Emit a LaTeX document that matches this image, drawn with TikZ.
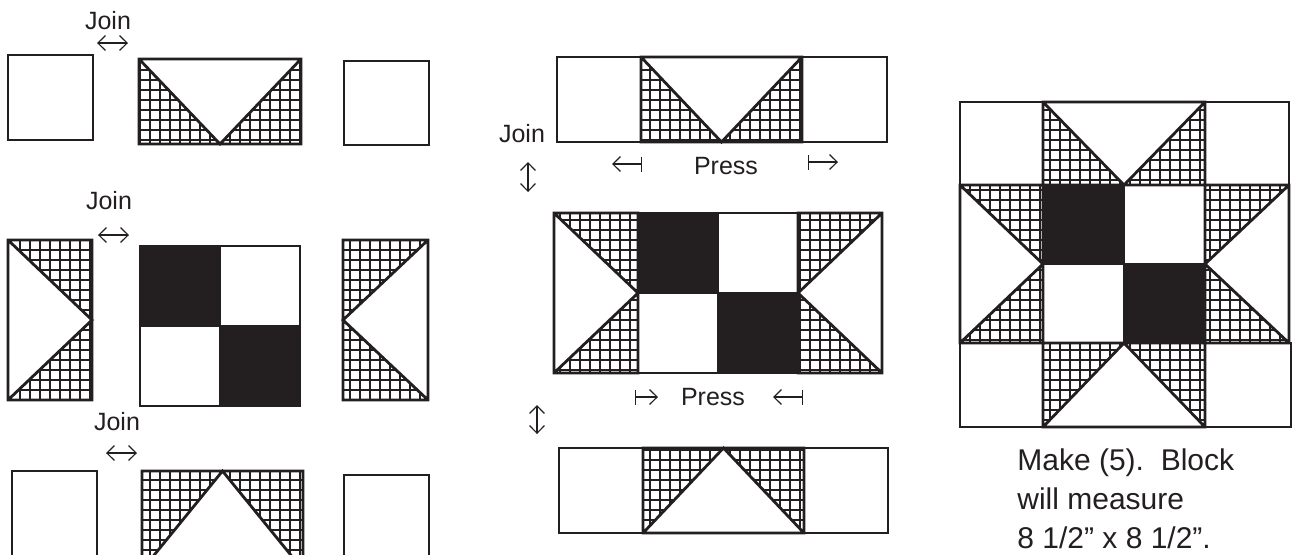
\documentclass[tikz,border=0pt]{standalone}
\usepackage{fontspec}
\setmainfont{Liberation Sans}
\usetikzlibrary{arrows.meta}
\definecolor{ink}{RGB}{35,31,32}
\tikzset{pc/.style={draw=ink,line width=1.4pt},
 hg/.style={draw=ink,line width=.7pt,step=5pt},
 bk/.style={pc,fill=ink},
 lab/.style={text=ink,inner sep=0pt,font=\fontsize{12.5}{15}\selectfont},
 note/.style={lab,align=left,font=\fontsize{15}{19.5}\selectfont},
 dar/.style={draw=ink,line width=.6pt,{Straight Barb[length=3.8pt,width=7.5pt]}-{Straight Barb[length=3.8pt,width=7.5pt]}},
 mto/.style={draw=ink,line width=.6pt,{Bar[width=7.5pt]}-{Straight Barb[length=3.8pt,width=7.5pt]}}}
\newcommand\hatch[1]{\begin{scope}\clip #1;\draw[hg] (0,570) grid (1296,0);\end{scope}}
\newcommand\geeseV[4]{\hatch{(#1,#2)--({(#1+#3)/2},#4)--(#1,#4)--cycle}\hatch{(#3,#2)--({(#1+#3)/2},#4)--(#3,#4)--cycle}
 \draw[pc] (#1,#2) rectangle (#3,#4) (#1,#2)--({(#1+#3)/2},#4)--(#3,#2);}
\newcommand\geeseA[4]{\hatch{(#1,#2)--({(#1+#3)/2},#2)--(#1,#4)--cycle}\hatch{({(#1+#3)/2},#2)--(#3,#2)--(#3,#4)--cycle}
 \draw[pc] (#1,#2) rectangle (#3,#4) (#1,#4)--({(#1+#3)/2},#2)--(#3,#4);}
\newcommand\geeseL[4]{\hatch{(#1,#2)--(#3,#2)--(#3,{(#2+#4)/2})--cycle}\hatch{(#3,{(#2+#4)/2})--(#3,#4)--(#1,#4)--cycle}
 \draw[pc] (#1,#2) rectangle (#3,#4) (#1,#2)--(#3,{(#2+#4)/2})--(#1,#4);}
\newcommand\geeseR[4]{\hatch{(#1,#2)--(#3,#2)--(#1,{(#2+#4)/2})--cycle}\hatch{(#1,{(#2+#4)/2})--(#1,#4)--(#3,#4)--cycle}
 \draw[pc] (#1,#2) rectangle (#3,#4) (#3,#2)--(#1,{(#2+#4)/2})--(#3,#4);}
\newcommand\fourp[4]{\draw[pc] (#1,#2) rectangle (#3,#4);
 \draw[bk] (#1,#2) rectangle ({(#1+#3)/2},{(#2+#4)/2}) ({(#1+#3)/2},{(#2+#4)/2}) rectangle (#3,#4);}
\begin{document}
\begin{tikzpicture}[x=.5pt,y=-.5pt]
\useasboundingbox (0,0) rectangle (1296,554);
% left: rows of units
\draw[pc] (8,55) rectangle (93,140);\geeseV{139}{59}{301}{144}\draw[pc] (344,61) rectangle (429,145);
\geeseL{8}{240}{92}{400}\fourp{140}{246}{300}{406}\geeseR{343}{240}{428}{400}
\draw[pc] (12,471) rectangle (97,570);\geeseA{142}{471}{303}{570}\draw[pc] (344,475) rectangle (429,570);
\foreach \n/\x/\y/\a in {1/108/21/43,2/109/201/235,3/117/422/453}{
\node[lab] (join\n) at (\x,\y) {Join};
\coordinate (jl\n) at (\x-11,\a);\coordinate (jr\n) at (\x+20,\a);
\draw[dar] (jl\n)--(jr\n);}
% middle: rows joined
\draw[pc] (557,57) rectangle (641,142);\geeseV{641}{57}{802}{142}\draw[pc] (802,57) rectangle (887,142);
\geeseL{554}{213}{638}{373}\fourp{638}{213}{798}{373}\geeseR{798}{213}{882}{373}
\draw[pc] (559,448) rectangle (643,533);\geeseA{643}{448}{804}{533}\draw[pc] (804,448) rectangle (888,533);
\node[lab] (join4) at (522,134) {Join};
\coordinate (ju1) at (528,162);\coordinate (jd1) at (528,192);\draw[dar] (ju1)--(jd1);
\coordinate (ju2) at (537,405);\coordinate (jd2) at (537,434);\draw[dar] (ju2)--(jd2);
\node[lab] (press1) at (726,166) {Press};
\coordinate (p1a) at (642,164);\coordinate (p1b) at (612,164);\draw[mto] (p1a)--(p1b);
\coordinate (p2a) at (808,162);\coordinate (p2b) at (838,162);\draw[mto] (p2a)--(p2b);
\node[lab] (press2) at (713,397) {Press};
\coordinate (p3a) at (635,397);\coordinate (p3b) at (658,397);\draw[mto] (p3a)--(p3b);
\coordinate (p4a) at (803,397);\coordinate (p4b) at (773,397);\draw[mto] (p4a)--(p4b);
% right: finished block
\draw[pc] (960,102) rectangle (1043,185);\geeseV{1043}{102}{1205}{185}\draw[pc] (1205,102) rectangle (1289,185);
\geeseL{960}{185}{1043}{343}\fourp{1043}{185}{1205}{343}\geeseR{1205}{185}{1289}{343}
\draw[pc] (960,343) rectangle (1043,427);\geeseA{1043}{343}{1205}{427}\draw[pc] (1205,343) rectangle (1291,427);
\node[note,anchor=north west] (make) at (1017,448) {Make (5).\ \ Block\\will measure\\8 1/2” x 8 1/2”.};
\end{tikzpicture}
\end{document}
